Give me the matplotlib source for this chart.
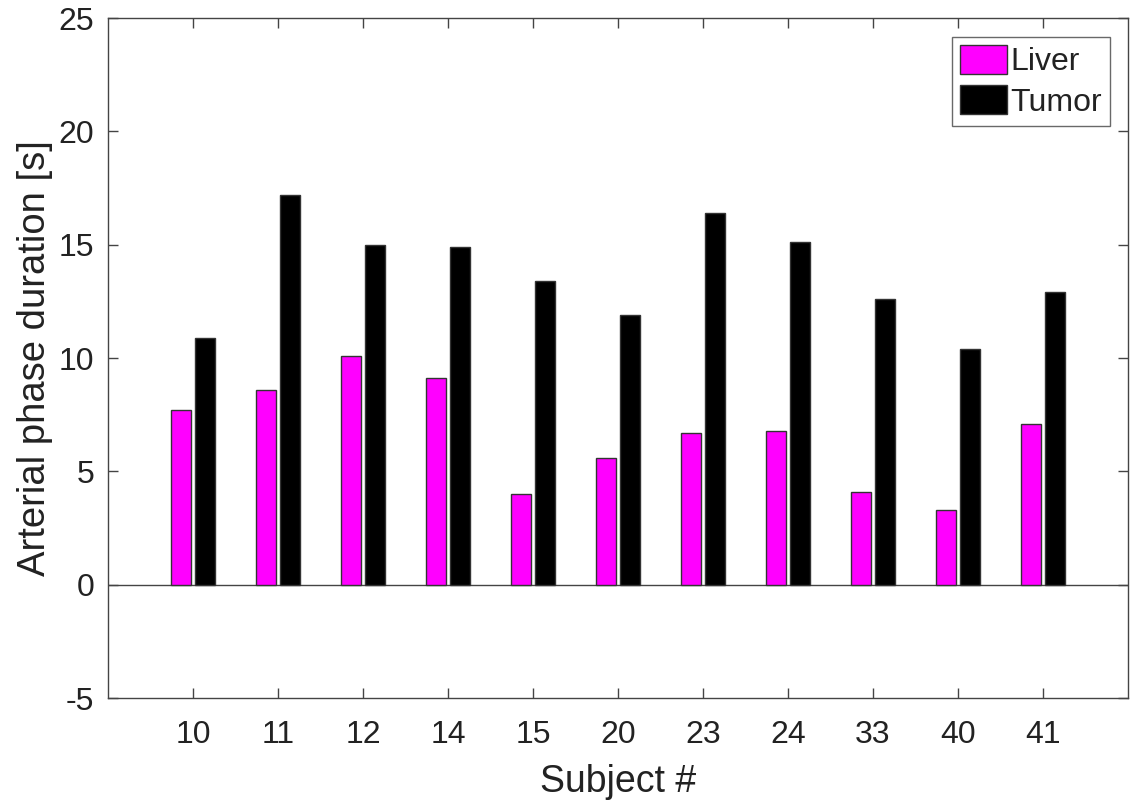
import matplotlib
matplotlib.use("Agg")
import matplotlib.pyplot as plt
import numpy as np

subjects = ["10", "11", "12", "14", "15", "20", "23", "24", "33", "40", "41"]
liver = [7.7, 8.6, 10.1, 9.1, 4.0, 5.6, 6.7, 6.8, 4.1, 3.3, 7.1]
tumor = [10.9, 17.2, 15.0, 14.9, 13.4, 11.9, 16.4, 15.1, 12.6, 10.4, 12.9]
yticks = [-5, 0, 5, 10, 15, 20, 25]

plt.rcParams['font.family'] = ['Liberation Sans', 'DejaVu Sans']
plt.rcParams['axes.unicode_minus'] = False

fig = plt.figure(figsize=(11.35, 8.05), dpi=100)
ax = fig.add_axes([0.0952, 0.1329, 0.8986, 0.8447])

x = np.arange(1, len(subjects) + 1)
w = 0.235
ax.bar(x - 0.14, liver, width=w, color='#ff00ff', edgecolor='#333333',
       linewidth=1.0, label='Liver', zorder=3)
ax.bar(x + 0.14, tumor, width=w, color='black', edgecolor='#333333',
       linewidth=1.0, label='Tumor', zorder=3)
ax.axhline(0, color='#444444', linewidth=1.0, zorder=2)

ax.set_xlim(0, 12)
ax.set_ylim(-5, 25)
ax.set_xticks(x)
ax.set_xticklabels(subjects)
ax.set_yticks(yticks)
ax.tick_params(direction='in', top=True, right=True, length=7,
               width=1.0, color='#444444', labelsize=23, labelcolor='#222222')
ax.tick_params(axis='x', pad=16)
ax.tick_params(axis='y', pad=10)
for s in ax.spines.values():
    s.set_color('#444444')
    s.set_linewidth(1.0)

ax.set_xlabel('Subject #', fontsize=27, labelpad=10, color='#222222')
ax.set_ylabel('Arterial phase duration [s]', fontsize=27.5, labelpad=4,
              color='#222222')

leg = ax.legend(loc='upper right', bbox_to_anchor=(0.982, 0.972), fontsize=23,
                frameon=True, fancybox=False, edgecolor='#444444',
                handlelength=1.45, handleheight=1.0, handletextpad=0.1,
                borderpad=0.25, labelspacing=0.25, borderaxespad=0)
leg.get_frame().set_linewidth(1.0)
for t in leg.get_texts():
    t.set_color('#222222')

fig.savefig('out.png', dpi=100)
